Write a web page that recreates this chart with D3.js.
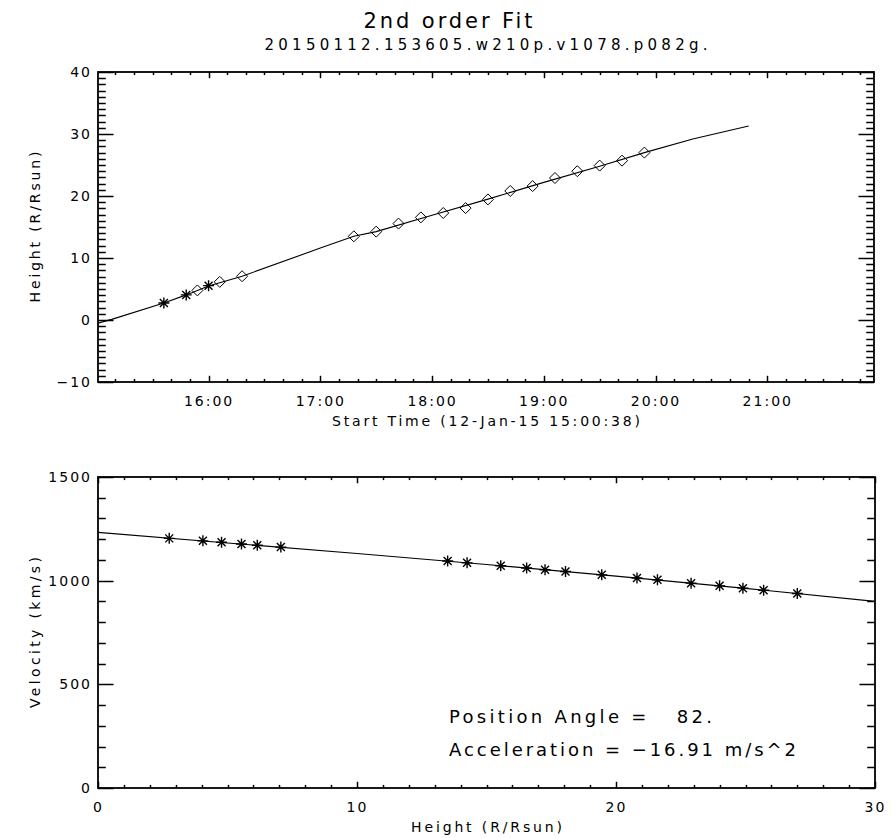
<!DOCTYPE html>
<html><head><meta charset="utf-8">
<script src="https://cdn.jsdelivr.net/npm/d3@7"></script>
<style>
body{margin:0;background:#fff;}
svg{display:block;}
text{font-family:"DejaVu Sans",sans-serif;fill:#000;}
</style></head><body>
<svg id="chart" width="896" height="838"></svg>
<script>
// ---- data ----
const chartTitle = "2nd order Fit";
const fileTitle = "20150112.153605.w210p.v1078.p082g.";
const day = "2015-01-12";
const timeStart = "15:00:38";
const timeEnd = "21:57:18";
const xTitleTop = "Start Time (12-Jan-15 15:00:38)";
const yTitleTop = "Height (R/Rsun)";
const xTitleBottom = "Height (R/Rsun)";
const yTitleBottom = "Velocity (km/s)";
const noteLines = ["Position Angle =   82.", "Acceleration = \u221216.91 m/s^2"];

// C2 points (asterisks) and C3 points (diamonds): time, height
const c2Times = ["15:36","15:48","16:00"];
const c2Heights = [2.75,4.05,5.54];
const c3Times = ["15:54","16:06","16:18","17:18","17:30","17:42","17:54","18:06","18:18","18:30","18:42","18:54","19:06","19:18","19:30","19:42","19:54"];
const c3Heights = [4.77,6.15,7.06,13.5,14.25,15.55,16.55,17.26,18.05,19.45,20.81,21.6,22.9,24.0,24.9,25.7,27.0];
// fitted height-time curve
const fitTimes = ["15:00:38","15:08","15:36","15:48","16:00","16:18","17:00","17:18","17:30","18:00","18:30","19:00","19:30","19:54","20:20","20:50"];
const fitHeights = [-0.5,0.1,2.75,4.05,5.5,7.06,11.6,13.5,14.25,16.9,19.5,22.2,24.8,27.0,29.2,31.3];

// velocity vs height
const velHeights = [2.75,4.05,4.77,5.54,6.15,7.06,13.5,14.25,15.55,16.55,17.26,18.05,19.45,20.81,21.6,22.9,24.0,24.9,25.7,27.0];
const velValues = [1204,1192,1185,1177,1171,1162,1095,1086,1072,1061,1053,1044,1028,1013,1004,988,975,964,954,938];
const velFitHeights = [0,5,10,15,20,25,30];
const velFitValues = [1233,1182,1131,1078,1022,963,900];

// tick values
const hTicks = [-10,0,10,20,30,40];
const vTicks = [0,500,1000,1500];
const rTicks = [0,10,20,30];

// ---- drawing ----
const svg = d3.select("#chart");
const parseT = s => d3.utcParse("%Y-%m-%d %H:%M:%S")(day + " " + (s.length === 5 ? s + ":00" : s));

const pTop = {x0:98, x1:874, y0:72, y1:382};
const pBot = {x0:98, x1:875, y0:477, y1:788};

const xT = d3.scaleUtc().domain([parseT(timeStart), parseT(timeEnd)]).range([pTop.x0, pTop.x1]);
const yH = d3.scaleLinear().domain([-10,40]).range([pTop.y1, pTop.y0]);
const xR = d3.scaleLinear().domain([0,30]).range([pBot.x0, pBot.x1]);
const yV = d3.scaleLinear().domain([0,1500]).range([pBot.y1, pBot.y0]);

function styleLabels(g){
  g.select(".domain").remove();
  g.selectAll(".tick line").remove();
  g.selectAll("text").attr("fill","#000").attr("font-size",14).attr("font-family","DejaVu Sans")
    .style("letter-spacing","2px");
}

const snap = v => Math.round(v) + 0.5;
const tickSpecs = [];

function tickLines(values, scale, side, p, len){
  tickSpecs.push({values, scale, side, p, len});
}

function drawTicks(){
  const layer = svg.append("g").attr("class","ticks");
  tickSpecs.forEach(({values, scale, side, p, len})=>{
    layer.append("g").selectAll("line").data(values).join("line")
      .attr("x1", v => side==="left" ? p.x0 : side==="right" ? p.x1 : snap(scale(v)))
      .attr("x2", v => side==="left" ? p.x0 + len : side==="right" ? p.x1 - len : snap(scale(v)))
      .attr("y1", v => side==="bottom" ? p.y1 : side==="top" ? p.y0 : snap(scale(v)))
      .attr("y2", v => side==="bottom" ? p.y1 - len : side==="top" ? p.y0 + len : snap(scale(v)))
      .attr("stroke","#000").attr("stroke-width",1.5);
  });
}

function frame(p, xs, ys, xMajor, xMinor, yMajor, yMinor, xFmt, yFmt){
  const xl = (p.y1 - p.y0) * 0.02, yl = (p.x1 - p.x0) * 0.02;
  ["bottom","top"].forEach(side=>{
    tickLines(xMinor, xs, side, p, xl/2);
    tickLines(xMajor, xs, side, p, xl);
  });
  ["left","right"].forEach(side=>{
    tickLines(yMinor, ys, side, p, yl/2);
    tickLines(yMajor, ys, side, p, yl);
  });
  svg.append("g").attr("transform",`translate(0,${p.y1})`)
    .call(d3.axisBottom(xs).tickValues(xMajor).tickSize(0).tickPadding(14).tickFormat(xFmt))
    .call(styleLabels);
  svg.append("g").attr("transform",`translate(${p.x0},0)`)
    .call(d3.axisLeft(ys).tickValues(yMajor).tickSize(0).tickPadding(6).tickFormat(yFmt))
    .call(styleLabels);
  svg.append("rect").attr("x",p.x0).attr("y",p.y0).attr("width",p.x1-p.x0).attr("height",p.y1-p.y0)
    .attr("fill","none").attr("stroke","#000").attr("stroke-width",1.8);
}

const hMinor = d3.range(-10,41,1).filter(v=>v%10!==0);
const tMinor = d3.utcMinute.every(10).range(xT.domain()[0], xT.domain()[1]).filter(d=>d.getUTCMinutes()!==0);
const tMajor = d3.utcHour.every(1).range(xT.domain()[0], xT.domain()[1]);
const minusFmt = v => (v<0 ? "\u2212" : "") + Math.abs(v);
frame(pTop, xT, yH, tMajor, tMinor, hTicks, hMinor, d3.utcFormat("%H:%M"), minusFmt);

const rMinor = d3.range(0,31,1).filter(v=>v%10!==0);
const vMinor = d3.range(0,1501,100).filter(v=>v%500!==0);
frame(pBot, xR, yV, rTicks, rMinor, vTicks, vMinor, d3.format("d"), d3.format("d"));

function label(x,y,str,size,len,opts={}){
  const t = svg.append("text").attr("x",x).attr("y",y).attr("font-size",size)
    .attr("text-anchor",opts.anchor||"middle").text(str);
  if(len) t.attr("textLength",len).attr("lengthAdjust","spacing");
  if(opts.rotate) t.attr("transform",`rotate(-90,${x},${y})`);
  if(opts.family) t.attr("font-family",opts.family);
  if(opts.fill) t.attr("fill",opts.fill);
  t.style("white-space","pre");
  return t;
}
label(448,28,chartTitle,21,169,{family:"'Noto Sans CJK KR','Noto Sans',sans-serif",fill:"#222"});
label((pTop.x0+pTop.x1)/2,50,fileTitle,15,443);
label((pTop.x0+pTop.x1)/2,426,xTitleTop,14,308);
label(40,(pTop.y0+pTop.y1)/2,yTitleTop,14,151,{rotate:true});
label((pBot.x0+pBot.x1)/2,832,xTitleBottom,14,151);
label(40,(pBot.y0+pBot.y1)/2,yTitleBottom,14,151,{rotate:true});
label(449,723,noteLines[0],18,263,{anchor:"start"});
label(449,756,noteLines[1],18,347,{anchor:"start"});

const asterisk = "M-5.5,0H5.5M0,-5.5V5.5M-4,-4L4,4M-4,4L4,-4";
const diamond = "M0,-5.5L5.5,0L0,5.5L-5.5,0Z";

const fitPts = fitTimes.map((t,i)=>[parseT(t), fitHeights[i]]);
svg.append("path").datum(fitPts)
  .attr("d", d3.line().x(d=>xT(d[0])).y(d=>yH(d[1])))
  .attr("fill","none").attr("stroke","#000").attr("stroke-width",1.1);

svg.append("g").selectAll("path").data(c3Times.map((t,i)=>[parseT(t), c3Heights[i]]))
  .join("path").attr("d",diamond)
  .attr("transform",d=>`translate(${xT(d[0])},${yH(d[1])})`)
  .attr("fill","none").attr("stroke","#000").attr("stroke-width",1);

svg.append("g").selectAll("path").data(c2Times.map((t,i)=>[parseT(t), c2Heights[i]]))
  .join("path").attr("d",asterisk)
  .attr("transform",d=>`translate(${xT(d[0])},${yH(d[1])})`)
  .attr("fill","none").attr("stroke","#000").attr("stroke-width",1.4);

const velFit = velFitHeights.map((h,i)=>[h, velFitValues[i]]);
svg.append("path").datum(velFit)
  .attr("d", d3.line().x(d=>xR(d[0])).y(d=>yV(d[1])))
  .attr("fill","none").attr("stroke","#000").attr("stroke-width",1.1);

svg.append("g").selectAll("path").data(velHeights.map((h,i)=>[h, velValues[i]]))
  .join("path").attr("d",asterisk)
  .attr("transform",d=>`translate(${xR(d[0])},${yV(d[1])})`)
  .attr("fill","none").attr("stroke","#000").attr("stroke-width",1.4);

drawTicks();
</script>
</body></html>
